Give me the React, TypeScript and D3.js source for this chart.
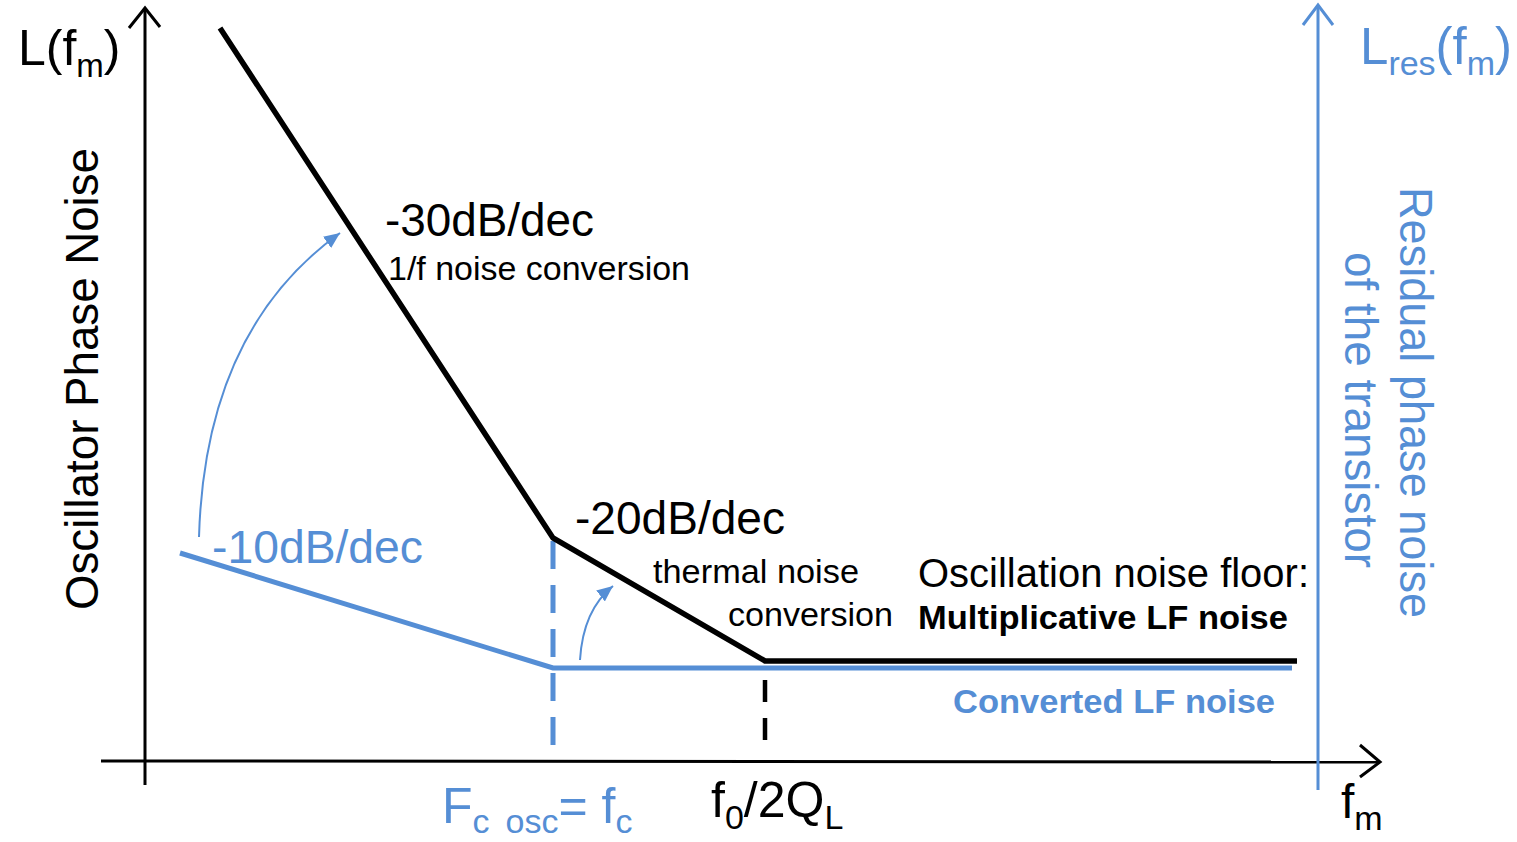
import * as d3 from 'd3';

const W = 1517;
const H = 842;
const BLUE = '#558ed5';
const FONT = '"Liberation Sans", Arial, Helvetica, sans-serif';

// schematic units: x = decades of offset frequency, y = noise level steps
const oscNoiseX = [0.75, 4.08, 6.2, 11.52];
const oscNoiseY = [7.32, 2.22, 0.99, 0.99];
const resNoiseX = [0.35, 4.08, 11.47];
const resNoiseY = [2.07, 0.92, 0.92];
const cornerFc = 4.08;
const cornerF0 = 6.2;
const resAxisX = 11.73;

// curved "conversion" arrows: start, control, end
const arrow1 = [[0.54, 2.23], [0.6, 4.3], [1.95, 5.27]];
const arrow2 = [[4.35, 1.0], [4.38, 1.5], [4.68, 1.74]];

type Pt = { x: number; y: number };
const zip = (xs: number[], ys: number[]): Pt[] => xs.map((x, i) => ({ x, y: ys[i] }));

export default function App() {
  const x = d3.scaleLinear().domain([0, 12.35]).range([145, 1380]);
  const y = d3.scaleLinear().domain([0, 7.52]).range([760, 8]);

  const line = d3
    .line<Pt>()
    .x((d) => x(d.x))
    .y((d) => y(d.y));

  const curve = (a: number[][]) => {
    const p = d3.path();
    p.moveTo(x(a[0][0]), y(a[0][1]));
    p.quadraticCurveTo(x(a[1][0]), y(a[1][1]), x(a[2][0]), y(a[2][1]));
    return p.toString();
  };

  const x0 = x(0);
  const y0 = y(0);
  const yTop = y(7.52);
  const xEnd = x(12.35);
  const xr = x(resAxisX);

  return (
    <svg width={W} height={H} style={{ display: 'block', position: 'absolute', left: 0, top: 0 }} fontFamily={FONT}>
      <defs>
        <marker id="bluehead" markerUnits="userSpaceOnUse" markerWidth={18} markerHeight={14} refX={16} refY={7} orient="auto">
          <path d="M0,0 L16,7 L0,14 Z" fill={BLUE} />
        </marker>
      </defs>
      <rect width={W} height={H} fill="#fff" />

      {/* left axis */}
      <line x1={x0} x2={x0} y1={y(-0.25)} y2={yTop} stroke="#000" strokeWidth={3} />
      <polyline points={`${x0 - 16},${yTop + 20} ${x0},${yTop} ${x0 + 15},${yTop + 19}`} fill="none" stroke="#000" strokeWidth={3} />
      {/* bottom axis */}
      <line x1={x(-0.44)} x2={xEnd} y1={y0 + 1} y2={y0 + 2} stroke="#000" strokeWidth={3} />
      <polyline points={`${xEnd - 20},${y0 - 15} ${xEnd},${y0 + 2} ${xEnd - 20},${y0 + 17}`} fill="none" stroke="#000" strokeWidth={3} />
      {/* right residual axis */}
      <line x1={xr} x2={xr} y1={y(-0.3)} y2={y(7.55)} stroke={BLUE} strokeWidth={3} />
      <polyline points={`${xr - 15},${y(7.55) + 20} ${xr},${y(7.55)} ${xr + 15},${y(7.55) + 20}`} fill="none" stroke={BLUE} strokeWidth={3} />

      {/* corner frequency markers */}
      <line x1={x(cornerFc)} x2={x(cornerFc)} y1={y(oscNoiseY[1]) + 3} y2={y0} stroke={BLUE} strokeWidth={5} strokeDasharray="28 16" />
      <line x1={x(cornerF0)} x2={x(cornerF0)} y1={y(oscNoiseY[2]) + 19} y2={y(0.18)} stroke="#000" strokeWidth={4.5} strokeDasharray="22 16" />

      {/* residual (blue) and oscillator (black) noise */}
      <path d={line(zip(resNoiseX, resNoiseY)) ?? ''} fill="none" stroke={BLUE} strokeWidth={5} />
      <path d={line(zip(oscNoiseX, oscNoiseY)) ?? ''} fill="none" stroke="#000" strokeWidth={5.5} />

      {/* conversion arrows */}
      <path d={curve(arrow1)} fill="none" stroke={BLUE} strokeWidth={2} markerEnd="url(#bluehead)" />
      <path d={curve(arrow2)} fill="none" stroke={BLUE} strokeWidth={2} markerEnd="url(#bluehead)" />

      {/* axis titles */}
      <text x={18} y={65} fontSize={50} fill="#000">
        L(f<tspan fontSize={33} dy={12}>m</tspan><tspan dy={-12}>)</tspan>
      </text>
      <text x={1360} y={64} fontSize={51} fill={BLUE}>
        L<tspan fontSize={34} dy={11}>res</tspan><tspan dy={-11}>(f</tspan>
        <tspan fontSize={34} dy={11}>m</tspan><tspan dy={-11}>)</tspan>
      </text>
      <text transform="translate(98,610) rotate(-90)" fontSize={46} textLength={462} lengthAdjust="spacingAndGlyphs" fill="#000">
        Oscillator Phase Noise
      </text>
      <text transform="translate(1400,187) rotate(90)" fontSize={46} textLength={431} lengthAdjust="spacingAndGlyphs" fill={BLUE}>
        Residual phase noise
      </text>
      <text transform="translate(1345,252) rotate(90)" fontSize={46} textLength={316} lengthAdjust="spacingAndGlyphs" fill={BLUE}>
        of the transistor
      </text>

      {/* slope labels */}
      <text x={385} y={236} fontSize={46} textLength={209} lengthAdjust="spacingAndGlyphs">-30dB/dec</text>
      <text x={388} y={280} fontSize={34} textLength={302} lengthAdjust="spacingAndGlyphs">1/f noise conversion</text>
      <text x={575} y={534} fontSize={46} textLength={210} lengthAdjust="spacingAndGlyphs">-20dB/dec</text>
      <text x={653} y={583} fontSize={34} textLength={206} lengthAdjust="spacingAndGlyphs">thermal noise</text>
      <text x={728} y={626} fontSize={34} textLength={165} lengthAdjust="spacingAndGlyphs">conversion</text>
      <text x={212} y={563} fontSize={46} fill={BLUE} textLength={211} lengthAdjust="spacingAndGlyphs">-10dB/dec</text>
      <text x={918} y={587} fontSize={40} textLength={391} lengthAdjust="spacingAndGlyphs">Oscillation noise floor:</text>
      <text x={918} y={629} fontSize={34} fontWeight="bold" textLength={370} lengthAdjust="spacingAndGlyphs">Multiplicative LF noise</text>
      <text x={953} y={713} fontSize={34} fontWeight="bold" fill={BLUE} textLength={322} lengthAdjust="spacingAndGlyphs">Converted LF noise</text>

      {/* frequency labels */}
      <text x={442} y={823} fontSize={50} fill={BLUE}>
        F<tspan fontSize={34} dy={10}>c</tspan><tspan fontSize={34} dx={16}>osc</tspan>
        <tspan dy={-10}>= f</tspan><tspan fontSize={34} dy={10}>c</tspan>
      </text>
      <text x={711} y={817} fontSize={50} fill="#000">
        f<tspan fontSize={34} dy={12}>0</tspan><tspan dy={-12}>/2Q</tspan>
        <tspan fontSize={34} dy={12}>L</tspan>
      </text>
      <text x={1341} y={818} fontSize={48} fill="#000">
        f<tspan fontSize={34} dy={12}>m</tspan>
      </text>
    </svg>
  );
}
